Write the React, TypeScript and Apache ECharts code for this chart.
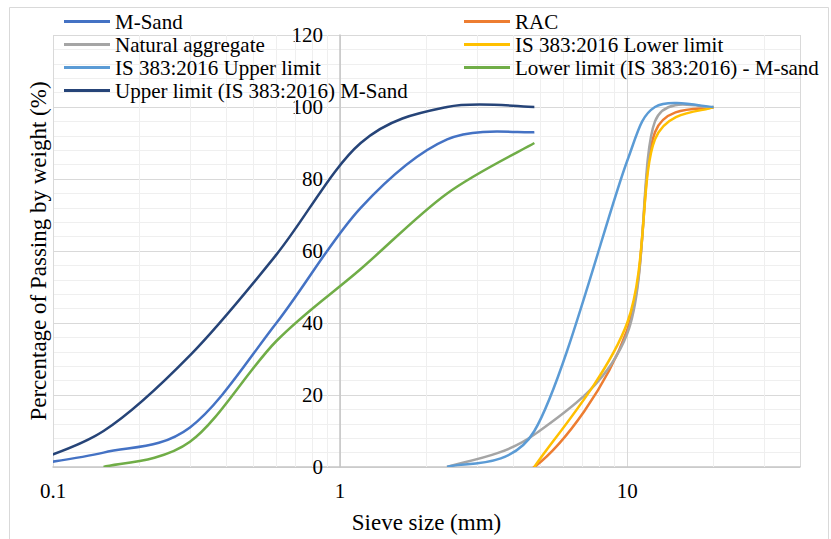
import React, { useEffect, useRef } from "react";
import * as echarts from "echarts";

// Sieve sizes (mm) and % passing
const fineSieves = [0.075, 0.15, 0.3, 0.6, 1.18, 2.36, 4.75];
const mSand = [0, 4, 11, 40, 72, 91, 93];
const upperMSand = [0, 10, 31, 59, 90, 100, 100];
const lowerMSandSieves = [0.15, 0.3, 0.6, 1.18, 2.36, 4.75];
const lowerMSand = [0, 7, 35, 55, 76, 90];
const coarseSieves = [2.36, 4.75, 10, 12.5, 20];
const rac = [0, 0, 38, 93, 100];
const natural = [0, 9, 37, 96, 100];
const isUpper = [0, 10, 85, 100, 100];
const isLowerSieves = [4.75, 10, 12.5, 20];
const isLower = [0, 40, 91, 100];

const xTickLabels = [0.1, 1, 10];
const xMinorGridValues = [0.2, 0.3, 0.4, 0.5, 0.6, 0.7, 0.8, 0.9, 2, 3, 4, 5, 6, 7, 8, 9, 20, 30];

const FONT = "Liberation Serif";

const pairs = (xs: number[], ys: number[]) => xs.map((x, i) => [x, ys[i]]);

export default function App() {
  const ref = useRef<HTMLDivElement>(null);
  useEffect(() => {
    if (!ref.current) return;
    const chart = echarts.init(ref.current, undefined, { renderer: "svg" });

    // Smoothed curve through the data points (spreadsheet-style Bezier smoothing)
    const smoothSeries = (name: string, color: string, xs: number[], ys: number[]) => ({
      name,
      type: "custom",
      coordinateSystem: "cartesian2d",
      data: pairs(xs, ys),
      clip: true,
      z: 3,
      itemStyle: { color },
      encode: { x: 0, y: 1 },
      renderItem: (params: any, api: any) => {
        if (params.dataIndex !== 0) return null;
        const pts = xs.map((x, i) => api.coord([x, ys[i]]));
        const n = pts.length;
        const dist = (a: number[], b: number[]) => Math.hypot(a[0] - b[0], a[1] - b[1]);
        let d = `M${pts[0][0]},${pts[0][1]}`;
        for (let i = 0; i < n - 1; i++) {
          const p0 = pts[i - 1] || pts[i];
          const p1 = pts[i];
          const p2 = pts[i + 1];
          const p3 = pts[i + 2] || pts[i + 1];
          const seg = dist(p1, p2);
          const t1 = [(p2[0] - p0[0]) / 6, (p2[1] - p0[1]) / 6];
          const t2 = [(p3[0] - p1[0]) / 6, (p3[1] - p1[1]) / 6];
          const l1 = Math.hypot(t1[0], t1[1]);
          const l2 = Math.hypot(t2[0], t2[1]);
          const f1 = l1 > seg / 2 ? seg / 2 / l1 : 1;
          const f2 = l2 > seg / 2 ? seg / 2 / l2 : 1;
          const c1x = p1[0] + t1[0] * f1;
          const c1y = p1[1] + t1[1] * f1;
          const c2x = p2[0] - t2[0] * f2;
          const c2y = p2[1] - t2[1] * f2;
          d += ` C${c1x},${c1y} ${c2x},${c2y} ${p2[0]},${p2[1]}`;
        }
        const cs = params.coordSys;
        return {
          type: "path",
          shape: { pathData: d },
          style: { stroke: color, lineWidth: 2.5, fill: "none" },
          clipPath: { type: "rect", shape: { x: cs.x, y: cs.y - 3, width: cs.width, height: cs.height + 3 } },
        };
      },
    });

    const legendCommon = {
      orient: "vertical",
      icon: "rect",
      itemWidth: 46,
      itemHeight: 3,
      itemGap: 2,
      padding: 0,
      textStyle: { fontFamily: FONT, fontSize: 21, color: "#000", lineHeight: 21 },
    };
    chart.setOption({
      animation: false,
      backgroundColor: "#fff",
      textStyle: { fontFamily: FONT },
      graphic: [
        {
          type: "rect",
          shape: { x: 9.5, y: 7.5, width: 819, height: 545 },
          style: { fill: "none", stroke: "#d9d9d9", lineWidth: 1 },
          silent: true,
          z: -1,
        },
      ],
      legend: [
        {
          ...legendCommon,
          left: 64,
          top: 11,
          data: [
            "M-Sand",
            "Natural aggregate",
            "IS 383:2016 Upper limit",
            "Upper limit (IS 383:2016) M-Sand",
          ],
        },
        {
          ...legendCommon,
          left: 464,
          top: 11,
          data: ["RAC", "IS 383:2016 Lower limit", "Lower limit (IS 383:2016) - M-sand"],
        },
      ],
      grid: { left: 53, right: 31, top: 35, bottom: 70, containLabel: false },
      xAxis: {
        type: "log",
        logBase: 10,
        min: 0.1,
        max: 40,
        name: "Sieve size (mm)",
        nameLocation: "middle",
        nameGap: 44,
        nameTextStyle: { fontFamily: FONT, fontSize: 23, color: "#000" },
        axisLine: { show: true, lineStyle: { color: "#c6c6c6", width: 1.5 } },
        axisTick: { show: false },
        axisLabel: {
          fontFamily: FONT,
          fontSize: 21,
          color: "#000",
          margin: 13,
          showMaxLabel: false,
          formatter: (v: number) => {
            const r = Number(v.toPrecision(6));
            return xTickLabels.includes(r) ? String(r) : "";
          },
        },
        splitLine: { show: true, lineStyle: { color: "#d9d9d9", width: 1 } },
        minorTick: { show: false },
        minorSplitLine: { show: false },
      },
      yAxis: {
        type: "value",
        min: 0,
        max: 120,
        interval: 20,
        position: "left",
        offset: -287,
        name: "Percentage of Passing by weight (%)",
        nameLocation: "middle",
        nameGap: 290,
        nameTextStyle: { fontFamily: FONT, fontSize: 23, color: "#000" },
        axisLine: { show: true, onZero: false, lineStyle: { color: "#c6c6c6", width: 1.5 } },
        axisTick: { show: false },
        axisLabel: { fontFamily: FONT, fontSize: 21, color: "#000", margin: 17 },
        splitLine: { show: true, lineStyle: { color: "#d9d9d9", width: 1 } },
        minorTick: { show: false, splitNumber: 5 },
        minorSplitLine: { show: true, lineStyle: { color: "#efefef", width: 1 } },
      },
      series: [
        {
          name: "gridlines",
          type: "line",
          data: [],
          silent: true,
          z: 1,
          markLine: {
            silent: true,
            z: 1,
            symbol: ["none", "none"],
            label: { show: false },
            lineStyle: { color: "#efefef", type: "solid", width: 1 },
            data: xMinorGridValues.map((v) => ({ xAxis: v })),
          },
        },
        smoothSeries("M-Sand", "#4472C4", fineSieves, mSand),
        smoothSeries("RAC", "#ED7D31", coarseSieves, rac),
        smoothSeries("Natural aggregate", "#A5A5A5", coarseSieves, natural),
        smoothSeries("IS 383:2016 Lower limit", "#FFC000", isLowerSieves, isLower),
        smoothSeries("IS 383:2016 Upper limit", "#5B9BD5", coarseSieves, isUpper),
        smoothSeries("Lower limit (IS 383:2016) - M-sand", "#70AD47", lowerMSandSieves, lowerMSand),
        smoothSeries("Upper limit (IS 383:2016) M-Sand", "#264478", fineSieves, upperMSand),
      ],
    });
    return () => chart.dispose();
  }, []);
  return (
    <div
      ref={ref}
      style={{ position: "fixed", left: 0, top: 0, width: 831, height: 539, background: "#fff" }}
    />
  );
}
